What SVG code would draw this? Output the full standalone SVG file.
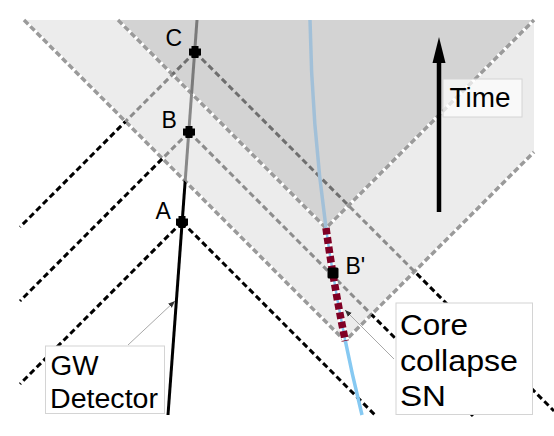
<svg xmlns="http://www.w3.org/2000/svg" xmlns:xlink="http://www.w3.org/1999/xlink" width="554" height="436" viewBox="0 0 554 436">
<style>
.dl{fill:none;stroke-width:3;stroke-dasharray:6 3.5}
.bw{fill:none;stroke:#ffffff;stroke-width:3.5}
.bg{fill:none;stroke:#9a9a9a;stroke-width:3.5;stroke-dasharray:6 3}
.lbl{font-family:"Liberation Sans",Arial,sans-serif;fill:#000}
.box{fill:#ffffff;stroke:#d4d4d4;stroke-width:1}
.ptr{fill:none;stroke:#a8a8a8;stroke-width:1}
</style>
<defs>
<clipPath id="inL"><polygon points="24,20 345,341 534,152 534,20"/></clipPath>
<clipPath id="inD"><polygon points="118,20 326,228 534,20"/></clipPath>
<mask id="outL" maskUnits="userSpaceOnUse" x="0" y="0" width="554" height="436">
<rect x="0" y="0" width="554" height="436" fill="#fff"/>
<polygon points="24,20 345,341 534,152 534,20" fill="#000"/>
</mask>
<mask id="midL" maskUnits="userSpaceOnUse" x="0" y="0" width="554" height="436">
<polygon points="24,20 345,341 534,152 534,20" fill="#fff"/>
<polygon points="118,20 326,228 534,20" fill="#000"/>
</mask>
<mask id="outD" maskUnits="userSpaceOnUse" x="0" y="0" width="554" height="436">
<rect x="0" y="0" width="554" height="436" fill="#fff"/>
<polygon points="118,20 326,228 534,20" fill="#000"/>
</mask>
<g id="abc" class="dl">
<path d="M182,222 L20,384"/>
<path d="M182,222 L375,415"/>
<path d="M189,132 L20,301"/>
<path d="M189,132 L473,416"/>
<path d="M195,52 L20,227"/>
<path d="M195,52 L554,411"/>
</g>
<path id="det" d="M168,415 L197,20" fill="none" stroke-width="3"/>
<path id="snl" d="M310,20 Q313.2,217.5 362,415" fill="none" stroke-width="3.5"/>
<path id="plus" d="M-3.5,-6h7v2.5h2.5v7h-2.5v2.5h-7v-2.5h-2.5v-7h2.5z" fill="#000"/>
<marker id="ah" viewBox="0 0 10 10" refX="10" refY="5" markerWidth="7" markerHeight="7" markerUnits="userSpaceOnUse" orient="auto">
<path d="M0,1 L10,5 L0,9 z" fill="#333"/>
</marker>
</defs>
<rect x="0" y="0" width="554" height="436" fill="#ffffff"/>
<g id="cones">
<polygon points="24,20 345,341 534,152 534,20" fill="#ececec"/>
<polygon points="118,20 326,228 534,20" fill="#d3d3d3"/>
<path class="bw" d="M24,20 L345,341 L534,152 M118,20 L326,228 L534,20"/>
<path class="bg" d="M24,20 L345,341 L534,152 M118,20 L326,228 L534,20"/>
</g>
<g id="connectors">
<use xlink:href="#abc" stroke="#000" mask="url(#outL)"/>
<use xlink:href="#abc" stroke="#8c8c8c" mask="url(#midL)"/>
<use xlink:href="#abc" stroke="#6e6e6e" clip-path="url(#inD)"/>
</g>
<g id="detector">
<use xlink:href="#det" stroke="#000" mask="url(#outL)"/>
<use xlink:href="#det" stroke="#888888" mask="url(#midL)"/>
<use xlink:href="#det" stroke="#7a7a7a" clip-path="url(#inD)"/>
</g>
<g id="supernova">
<use xlink:href="#snl" stroke="#86c9f2" mask="url(#outD)"/>
<use xlink:href="#snl" stroke="#a2c0d8" clip-path="url(#inD)"/>
<path d="M326,228 Q333.8,284.5 345.3,341" fill="none" stroke="#ffffff" stroke-width="6.5"/>
<path d="M326,228 Q333.8,284.5 345.3,341" fill="none" stroke="#86c9f2" stroke-width="2.5"/>
<path d="M326,228 Q333.8,284.5 345.3,341" fill="none" stroke="#800025" stroke-width="7.5" stroke-dasharray="6.5 3"/>
</g>
<g id="pointA"><use xlink:href="#plus" transform="translate(182,222)"/><text class="lbl" x="155.5" y="219" font-size="23">A</text></g>
<g id="pointB"><use xlink:href="#plus" transform="translate(189,132)"/><text class="lbl" x="161.5" y="127.5" font-size="23">B</text></g>
<g id="pointC"><use xlink:href="#plus" transform="translate(195,52)"/><text class="lbl" x="165.5" y="45.5" font-size="23">C</text></g>
<g id="pointBp"><rect x="327.5" y="267.5" width="11" height="11" rx="1.5" fill="#000"/><text class="lbl" x="345.5" y="274" font-size="23">B'</text></g>
<g id="time">
<line x1="439" y1="212" x2="439" y2="60" stroke="#000" stroke-width="4.5"/>
<polygon points="439,37 432.5,63 445.5,63" fill="#000"/>
<rect x="443" y="79" width="79" height="38" fill="#ffffff" fill-opacity="0.7" stroke="#d4d4d4" stroke-width="1"/>
<text class="lbl" x="449.5" y="107" font-size="27" textLength="61" lengthAdjust="spacingAndGlyphs">Time</text>
</g>
<g id="gwlabel">
<line class="ptr" x1="128" y1="345" x2="175" y2="301" marker-end="url(#ah)"/>
<rect class="box" x="45.5" y="346" width="119" height="67.5"/>
<text class="lbl" x="50.5" y="374.5" font-size="27" textLength="48" lengthAdjust="spacingAndGlyphs">GW</text>
<text class="lbl" x="50" y="407.5" font-size="27" textLength="108" lengthAdjust="spacingAndGlyphs">Detector</text>
</g>
<g id="snlabel">
<line class="ptr" x1="394" y1="359" x2="345" y2="310" marker-end="url(#ah)"/>
<rect class="box" x="396" y="303" width="136.5" height="111.5"/>
<text class="lbl" x="400" y="335" font-size="29" textLength="68" lengthAdjust="spacingAndGlyphs">Core</text>
<text class="lbl" x="400" y="370.5" font-size="29" textLength="118" lengthAdjust="spacingAndGlyphs">collapse</text>
<text class="lbl" x="400" y="406" font-size="29" textLength="46" lengthAdjust="spacingAndGlyphs">SN</text>
</g>
</svg>
